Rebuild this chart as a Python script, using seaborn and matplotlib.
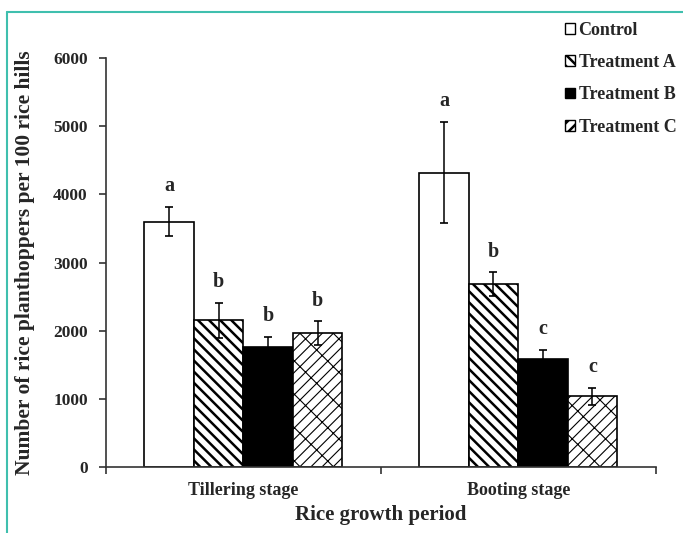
import matplotlib
matplotlib.use("Agg")
import matplotlib.pyplot as plt
from matplotlib.lines import Line2D
from matplotlib.patches import Patch
import pandas as pd
import seaborn as sns

# values
stages = ["Tillering stage", "Booting stage"]
treatments = ["Control", "Treatment A", "Treatment B", "Treatment C"]
control = [3600, 4320]
treat_a = [2150, 2680]
treat_b = [1760, 1580]
treat_c = [1960, 1040]
err_control = [210, 740]
err_a = [255, 175]
err_b = [145, 140]
err_c = [175, 125]
letters_control = ["a", "a"]
letters_a = ["b", "b"]
letters_b = ["b", "c"]
letters_c = ["b", "c"]
yticks = [0, 1000, 2000, 3000, 4000, 5000, 6000]

values = [control, treat_a, treat_b, treat_c]
errors = [err_control, err_a, err_b, err_c]
letters = [letters_control, letters_a, letters_b, letters_c]

rows = []
for t, vals in zip(treatments, values):
    for s, v in zip(stages, vals):
        rows.append({"stage": s, "treatment": t, "value": v})
df = pd.DataFrame(rows)

sns.set_style("ticks")
plt.rcParams['font.family'] = ['Liberation Serif', 'DejaVu Serif']
plt.rcParams['font.weight'] = 'bold'
plt.rcParams['hatch.linewidth'] = 1.8

fig = plt.figure(figsize=(6.83, 5.33), dpi=100)
ax = fig.add_axes([0.155, 0.124, 0.805, 0.767])

colors = ["white", "white", "black", "white"]
sns.barplot(data=df, x="stage", y="value", hue="treatment", order=stages,
            hue_order=treatments, palette=colors, saturation=1,
            edgecolor="black", linewidth=1.2, width=0.72, errorbar=None,
            legend=False, ax=ax)

hatches = [None, "\\\\\\", None, "///\\"]
bar_conts = list(ax.containers)
for i, cont in enumerate(bar_conts):
    for j, p in enumerate(cont.patches):
        if hatches[i]:
            p.set_hatch(hatches[i])
            if i == 3 and hasattr(p, "set_hatch_linewidth"):
                p.set_hatch_linewidth(0.8)
        x = p.get_x() + p.get_width() / 2
        y = p.get_height()
        e = errors[i][j]
        ax.errorbar(x, y, yerr=e, color="black", lw=1.1, capsize=3,
                    capthick=1.2, zorder=5)
        ax.annotate(letters[i][j], (x, y + e), xytext=(0, 15),
                    textcoords="offset points", ha="center", va="center",
                    fontsize=14.5, fontweight="bold")

ax.set_xlim(-0.5, 1.5)
ax.set_ylim(0, 6000)
ax.set_yticks(yticks)
ax.set_xticks([0, 1])
ax.set_xticklabels(stages)
ax.set_xticks([-0.5, 0.5, 1.5], minor=True)
ax.tick_params(axis="x", which="major", length=0, pad=11, labelsize=13)
ax.tick_params(axis="x", which="minor", length=5, width=1.2, color="#333333")
ax.tick_params(axis="y", length=5, width=1.2, color="#333333", labelsize=12.5, pad=8)
for lab in ax.get_xticklabels() + ax.get_yticklabels():
    lab.set_fontweight("bold")
sns.despine(ax=ax)
for sp in ["left", "bottom"]:
    ax.spines[sp].set_linewidth(1.2)
    ax.spines[sp].set_color("#333333")

ax.set_xlabel("Rice growth period", fontsize=15, fontweight="bold", labelpad=4)
ax.set_ylabel("Number of rice planthoppers per 100 rice hills", fontsize=15.5,
              fontweight="bold", labelpad=13)

handles = []
for i, t in enumerate(treatments):
    handles.append(Patch(facecolor=colors[i], edgecolor="black", lw=1.0,
                         hatch=hatches[i], label=t))
fig.legend(handles=handles, loc="upper left", bbox_to_anchor=(565 / 683, 1 - 22 / 533),
           frameon=False, prop={"family": "Liberation Serif", "weight": "bold", "size": 13},
           handlelength=0.55, handleheight=0.55, handletextpad=0.2,
           labelspacing=0.84, borderaxespad=0, borderpad=0)

teal = "#3fbfae"
fig.add_artist(Line2D([7 / 683, 7 / 683], [0, 1 - 12 / 533], transform=fig.transFigure,
                      color=teal, lw=1.5))
fig.add_artist(Line2D([7 / 683, 1], [1 - 12 / 533, 1 - 12 / 533], transform=fig.transFigure,
                      color=teal, lw=1.5))

fig.savefig("out.png", dpi=100)
